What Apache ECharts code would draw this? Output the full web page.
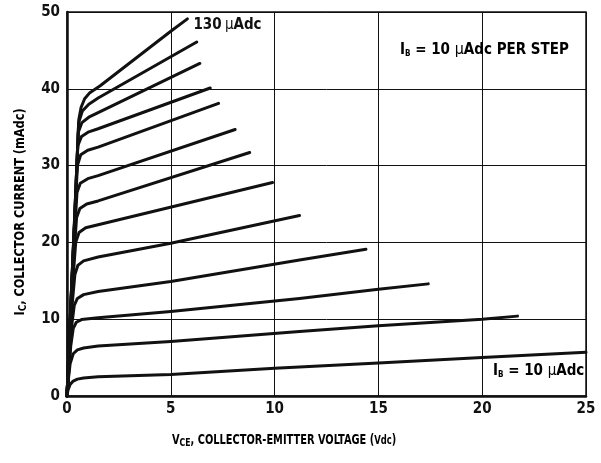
<!DOCTYPE html>
<html>
<head>
<meta charset="utf-8">
<script src="https://cdn.jsdelivr.net/npm/echarts@6/dist/echarts.min.js"></script>
<style>
  html, body { margin: 0; padding: 0; background: #fff; }
  #chart { width: 601px; height: 463px; }
</style>
</head>
<body>
<div id="chart"></div>
<script>
// Collector characteristics: I_C (mAdc) versus V_CE (Vdc), one curve per base-current step.
const baseCurrents = [10, 20, 30, 40, 50, 60, 70, 80, 90, 100, 110, 120, 130]; // µAdc
const xTicks = [0, 5, 10, 15, 20, 25];
const yTicks = [0, 10, 20, 30, 40, 50];

// [V_CE, I_C] points (dense through the saturation knee)
const ib10  = [[0,0],[0.05,0.8],[0.15,1.5],[0.3,1.95],[0.5,2.2],[0.8,2.35],[1.5,2.5],[5,2.8],[10,3.6],[15,4.3],[20,5.0],[25,5.7]];
const ib20  = [[0,0],[0.06,2],[0.15,4.2],[0.3,5.5],[0.5,6.0],[0.8,6.25],[1.5,6.5],[5,7.1],[11.2,8.4],[15,9.15],[20,10.0],[21.7,10.4]];
const ib30  = [[0,0],[0.08,3],[0.18,6.5],[0.3,8.8],[0.45,9.6],[0.7,9.95],[1.5,10.2],[5,11.0],[11.2,12.7],[15,13.9],[17.4,14.6]];
const ib40  = [[0,0],[0.1,4],[0.22,9],[0.35,11.8],[0.5,12.7],[0.8,13.2],[1.5,13.6],[5,14.9],[11.2,17.7],[14.4,19.1]];
const ib50  = [[0,0],[0.12,6],[0.25,12],[0.38,15.8],[0.52,17.0],[0.8,17.6],[1.5,18.1],[5,19.9],[11.2,23.5]];
const ib60  = [[0,0],[0.13,7],[0.28,15],[0.42,20],[0.58,21.3],[0.9,21.9],[1.5,22.3],[9.9,27.8]];
const ib70  = [[0,0],[0.15,8],[0.3,17],[0.46,23.2],[0.62,24.4],[0.95,25.0],[1.5,25.4],[8.8,31.7]];
const ib80  = [[0,0],[0.15,9],[0.32,19],[0.48,26.5],[0.64,27.7],[1.0,28.3],[1.5,28.7],[8.1,34.7]];
const ib90  = [[0,0],[0.16,10],[0.34,21],[0.5,30.0],[0.66,31.4],[1.0,32.0],[1.5,32.4],[7.3,38.1]];
const ib100 = [[0,0],[0.16,10],[0.36,22],[0.52,32.6],[0.7,33.8],[1.05,34.4],[1.5,34.8],[6.9,40.1]];
const ib110 = [[0,0],[0.17,11],[0.37,23],[0.54,34.3],[0.72,35.6],[1.05,36.3],[1.5,36.9],[6.4,43.3]];
const ib120 = [[0,0],[0.17,11],[0.38,24],[0.56,35.6],[0.74,37.1],[1.05,38.0],[1.5,38.8],[6.25,46.1]];
const ib130 = [[0,0],[0.17,11],[0.38,24],[0.57,36],[0.68,37.6],[0.85,38.7],[1.1,39.5],[1.6,40.4],[5,47.5],[5.8,49.1]];

const curves = [ib10, ib20, ib30, ib40, ib50, ib60, ib70, ib80, ib90, ib100, ib110, ib120, ib130];

const FONT = "'Liberation Sans Narrow','DejaVu Sans Condensed','Roboto Condensed','DejaVu Sans',sans-serif";
const INK = '#111';

const chart = echarts.init(document.getElementById('chart'), null, { renderer: 'canvas' });

const series = curves.map((pts, i) => {
  const top = i === curves.length - 1;
  return {
    name: baseCurrents[i] + ' µAdc',
    type: 'line',
    data: pts,
    showSymbol: false,
    smooth: false,
    lineStyle: { color: INK, width: 3, cap: 'round', join: 'round' },
    z: 3,
    endLabel: top ? {
      show: true,
      formatter: '{n|' + baseCurrents[i] + '} {m|µ}{u|Adc}',
      distance: 6,
      offset: [0, 6],
      rich: {
        n: { fontFamily: FONT, fontSize: 15, fontWeight: 'bold', color: INK },
        m: { fontFamily: FONT, fontSize: 15, color: INK },
        u: { fontFamily: FONT, fontSize: 15, fontWeight: 'bold', color: INK }
      }
    } : { show: false },
    emphasis: { disabled: true }
  };
});

const sub = (size) => ({ fontFamily: FONT, fontSize: size, fontWeight: 'bold', color: INK, verticalAlign: 'bottom', padding: [6, 0, 0, 0] });

chart.setOption({
  animation: false,
  backgroundColor: '#fff',
  grid: {
    left: 67, right: 15, top: 12, bottom: 67,
    show: true, borderColor: INK, borderWidth: 1.5, backgroundColor: 'transparent'
  },
  xAxis: {
    type: 'value', min: 0, max: 25, interval: 5,
    axisLine: { show: true, onZero: false, lineStyle: { color: INK, width: 2.5 } },
    axisTick: { show: false },
    splitLine: { show: true, lineStyle: { color: INK, width: 1 } },
    axisLabel: {
      margin: 6, color: INK, fontFamily: FONT, fontWeight: 'bold', fontSize: 15,
      formatter: v => xTicks.includes(v) ? String(v) : ''
    }
  },
  yAxis: {
    type: 'value', min: 0, max: 50, interval: 10,
    axisLine: { show: true, onZero: false, lineStyle: { color: INK, width: 2.5 } },
    axisTick: { show: false },
    splitLine: { show: true, lineStyle: { color: INK, width: 1 } },
    axisLabel: {
      margin: 7, color: INK, fontFamily: FONT, fontWeight: 'bold', fontSize: 15,
      formatter: v => yTicks.includes(v) ? String(v) : ''
    }
  },
  series: series,
  graphic: [
    {
      // horizontal axis title, narrowed to a condensed width
      type: 'text', x: 172, y: 432, scaleX: 0.78, z: 10,
      style: {
        text: '{a|V}{s|CE}{a|, COLLECTOR-EMITTER VOLTAGE (}{b|Vdc}{a|)}',
        rich: {
          a: { fontFamily: FONT, fontSize: 14, fontWeight: 'bold', color: INK },
          b: { fontFamily: FONT, fontSize: 12, fontWeight: 'bold', color: INK },
          s: sub(11)
        }
      }
    },
    {
      // vertical axis title, reading bottom to top
      type: 'text', x: 20, y: 212, rotation: Math.PI / 2, scaleX: 0.9, z: 10,
      style: {
        text: '{a|I}{s|C}{a|, COLLECTOR CURRENT (mAdc)}',
        align: 'center', verticalAlign: 'middle',
        rich: {
          a: { fontFamily: FONT, fontSize: 14, fontWeight: 'bold', color: INK },
          s: sub(11)
        }
      }
    },
    {
      type: 'text', x: 400, y: 42, z: 10,
      style: {
        text: '{a|I}{s|B}{a| = 10 }{m|µ}{a|Adc PER STEP}',
        rich: {
          a: { fontFamily: FONT, fontSize: 15, fontWeight: 'bold', color: INK },
          m: { fontFamily: FONT, fontSize: 16, color: INK },
          s: sub(8)
        }
      }
    },
    {
      type: 'text', x: 493, y: 364, z: 10,
      style: {
        text: '{a|I}{s|B}{a| = 10 }{m|µ}{a|Adc}',
        rich: {
          a: { fontFamily: FONT, fontSize: 15, fontWeight: 'bold', color: INK },
          m: { fontFamily: FONT, fontSize: 15, color: INK },
          s: sub(8)
        }
      }
    }
  ]
});
</script>
</body>
</html>
